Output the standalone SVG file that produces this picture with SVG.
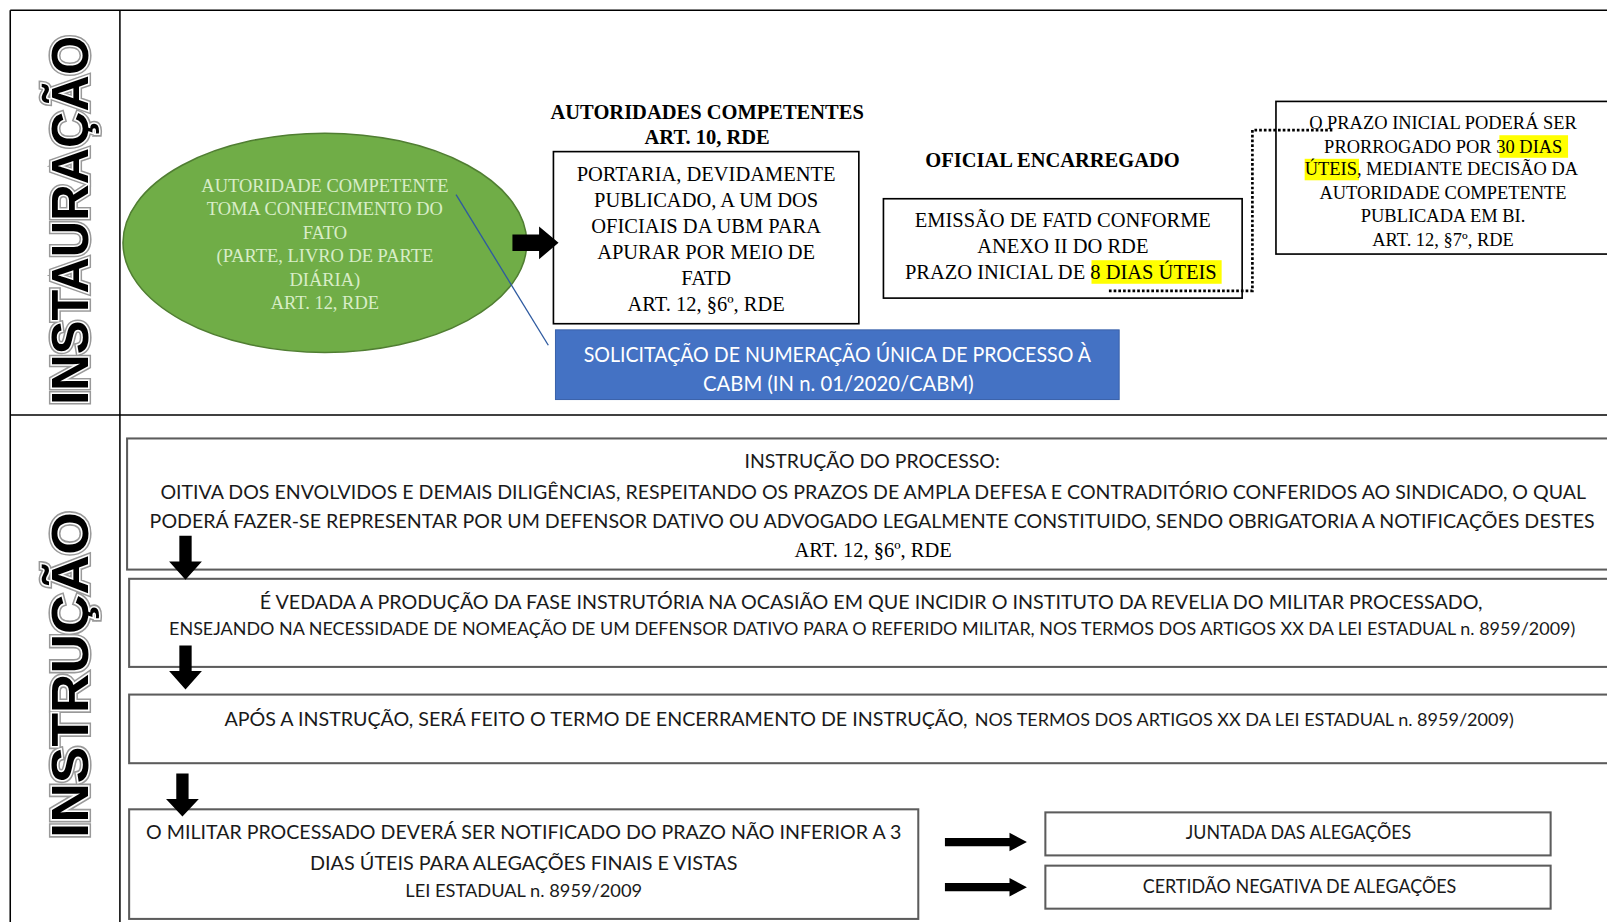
<svg xmlns="http://www.w3.org/2000/svg" width="1607" height="922" viewBox="0 0 1607 922">
<defs>
<style>
.serif{font-family:"Liberation Serif","Times New Roman",serif;fill:#000}
.b{font-weight:bold}
.sans{font-family:Lato,"Liberation Sans",Arial,sans-serif;fill:#1a1a1a}
.box{fill:#fff;stroke:#000;stroke-width:1.6}
.gbox{fill:#fff;stroke:#5c5c5c;stroke-width:2}
.hl{fill:#FFFF00}
.arr{fill:#000}
.grid{stroke:#000;stroke-width:1.5;fill:none}
.vt{font-family:"Liberation Sans",Arial,sans-serif;font-weight:bold;font-size:50px}
.vtsh{fill:#999;stroke:#999;stroke-width:6}
.vtfg{fill:#000;stroke:#fff;stroke-width:3;paint-order:stroke}
.mid{text-anchor:middle}
</style>
</defs>
<rect width="1607" height="922" fill="#fff"/>
<g transform="scale(1.02487 1.02444)">
  <g id="table">
    <line class="grid" x1="10" y1="10" x2="1620" y2="10"/>
    <line class="grid" x1="10" y1="10" x2="10" y2="910"/>
    <line class="grid" x1="117" y1="10" x2="117" y2="910"/>
    <line class="grid" x1="10" y1="405" x2="1620" y2="405"/>
  </g>
  <g id="label-instauracao">
    <text class="vt vtsh mid" transform="translate(86 215) rotate(-90)" textLength="360" lengthAdjust="spacingAndGlyphs">INSTAURAÇÃO</text>
    <text class="vt vtfg mid" transform="translate(86 215) rotate(-90)" textLength="360" lengthAdjust="spacingAndGlyphs">INSTAURAÇÃO</text>
  </g>
  <g id="label-instrucao">
    <text class="vt vtsh mid" transform="translate(86 659) rotate(-90)" textLength="318" lengthAdjust="spacingAndGlyphs">INSTRUÇÃO</text>
    <text class="vt vtfg mid" transform="translate(86 659) rotate(-90)" textLength="318" lengthAdjust="spacingAndGlyphs">INSTRUÇÃO</text>
  </g>

  <g id="node-autoridade">
    <ellipse cx="317" cy="237" rx="197" ry="107" fill="#70AD47" stroke="#507E32" stroke-width="1.5"/>
    <g class="mid" font-family="Liberation Serif,Times New Roman,serif" font-size="18" fill="#D8EDC8">
      <text x="317" y="187">AUTORIDADE COMPETENTE</text>
      <text x="317" y="210">TOMA CONHECIMENTO DO</text>
      <text x="317" y="233">FATO</text>
      <text x="317" y="256">(PARTE, LIVRO DE PARTE</text>
      <text x="317" y="279">DIÁRIA)</text>
      <text x="317" y="302">ART. 12, RDE</text>
    </g>
  </g>

  <g id="title-autoridades">
    <text class="serif b mid" x="690" y="116" font-size="20">AUTORIDADES COMPETENTES</text>
    <text class="serif b mid" x="690" y="141" font-size="20">ART. 10, RDE</text>
  </g>

  <g id="node-portaria">
    <rect class="box" x="540" y="148" width="298" height="168"/>
    <g class="serif mid" font-size="20">
      <text x="689" y="177">PORTARIA, DEVIDAMENTE</text>
      <text x="689" y="202">PUBLICADO, A UM DOS</text>
      <text x="689" y="227">OFICIAIS DA UBM PARA</text>
      <text x="689" y="253">APURAR POR MEIO DE</text>
      <text x="689" y="278">FATD</text>
      <text x="689" y="304">ART. 12, §6º, RDE</text>
    </g>
  </g>

  <g id="node-solicitacao">
    <rect x="542" y="322" width="550" height="68" fill="#4472C4" stroke="#3A62AA" stroke-width="1"/>
    <text class="sans mid" x="817" y="353" font-size="20.5" style="fill:#fff" textLength="495" lengthAdjust="spacingAndGlyphs">SOLICITAÇÃO DE NUMERAÇÃO ÚNICA DE PROCESSO À</text>
    <text class="sans mid" x="818" y="382" font-size="20.5" style="fill:#fff" textLength="264" lengthAdjust="spacingAndGlyphs">CABM (IN n. 01/2020/CABM)</text>
  </g>

  <g id="title-oficial">
    <text class="serif b mid" x="1027" y="163" font-size="20">OFICIAL ENCARREGADO</text>
  </g>

  <g id="node-emissao">
    <rect class="box" x="862" y="194" width="350" height="97"/>
    <rect class="hl" x="1065" y="254" width="127" height="23"/>
    <g class="serif" font-size="20">
      <text class="mid" x="1037" y="222">EMISSÃO DE FATD CONFORME</text>
      <text class="mid" x="1037" y="247">ANEXO II DO RDE</text>
      <text x="883" y="272">PRAZO INICIAL DE 8 DIAS ÚTEIS</text>
    </g>
  </g>

  <g id="node-prazo">
    <rect class="box" x="1245" y="99" width="380" height="149"/>
    <rect class="hl" x="1463" y="132" width="67" height="22"/>
    <rect class="hl" x="1273" y="155" width="53" height="21"/>
    <g class="serif" font-size="18">
      <text class="mid" x="1408" y="126">O PRAZO INICIAL PODERÁ SER</text>
      <text x="1292" y="149">PRORROGADO POR 30 DIAS</text>
      <text x="1273" y="171">ÚTEIS, MEDIANTE DECISÃO DA</text>
      <text class="mid" x="1408" y="194">AUTORIDADE COMPETENTE</text>
      <text class="mid" x="1408" y="217">PUBLICADA EM BI.</text>
      <text class="mid" x="1408" y="240">ART. 12, §7º, RDE</text>
    </g>
  </g>

  <g id="node-instrucao-processo">
    <rect class="gbox" x="124" y="428" width="1500" height="128"/>
    <text class="sans mid" x="851" y="457" font-size="19.5" textLength="249" lengthAdjust="spacingAndGlyphs">INSTRUÇÃO DO PROCESSO:</text>
    <text class="sans mid" x="852" y="487" font-size="18.5" textLength="1391" lengthAdjust="spacingAndGlyphs">OITIVA DOS ENVOLVIDOS E DEMAIS DILIGÊNCIAS, RESPEITANDO OS PRAZOS DE AMPLA DEFESA E CONTRADITÓRIO CONFERIDOS AO SINDICADO, O QUAL</text>
    <text class="sans mid" x="851" y="515" font-size="18.5" textLength="1410" lengthAdjust="spacingAndGlyphs">PODERÁ FAZER-SE REPRESENTAR POR UM DEFENSOR DATIVO OU ADVOGADO LEGALMENTE CONSTITUIDO, SENDO OBRIGATORIA A NOTIFICAÇÕES DESTES</text>
    <text class="serif mid" x="852" y="544" font-size="20">ART. 12, §6º, RDE</text>
  </g>

  <g id="node-vedada">
    <rect class="gbox" x="126" y="565" width="1500" height="86"/>
    <text class="sans mid" x="850" y="594" font-size="19.5" textLength="1193" lengthAdjust="spacingAndGlyphs">É VEDADA A PRODUÇÃO DA FASE INSTRUTÓRIA NA OCASIÃO EM QUE INCIDIR O INSTITUTO DA REVELIA DO MILITAR PROCESSADO,</text>
    <text class="sans mid" x="851" y="620" font-size="16.5" textLength="1372" lengthAdjust="spacingAndGlyphs">ENSEJANDO NA NECESSIDADE DE NOMEAÇÃO DE UM DEFENSOR DATIVO PARA O REFERIDO MILITAR, NOS TERMOS DOS ARTIGOS XX DA LEI ESTADUAL n. 8959/2009)</text>
  </g>

  <g id="node-encerramento">
    <rect class="gbox" x="126" y="678" width="1500" height="67"/>
    <text class="sans" x="219" y="709" font-size="19.5" textLength="725" lengthAdjust="spacingAndGlyphs">APÓS A INSTRUÇÃO, SERÁ FEITO O TERMO DE ENCERRAMENTO DE INSTRUÇÃO,</text>
    <text class="sans" x="951" y="709" font-size="16.5" textLength="526" lengthAdjust="spacingAndGlyphs">NOS TERMOS DOS ARTIGOS XX DA LEI ESTADUAL n. 8959/2009)</text>
  </g>

  <g id="node-notificado">
    <rect class="gbox" x="126" y="790" width="770" height="107"/>
    <text class="sans mid" x="511" y="819" font-size="19.5" textLength="737" lengthAdjust="spacingAndGlyphs">O MILITAR PROCESSADO DEVERÁ SER NOTIFICADO DO PRAZO NÃO INFERIOR A 3</text>
    <text class="sans mid" x="511" y="849" font-size="19.5" textLength="417" lengthAdjust="spacingAndGlyphs">DIAS ÚTEIS PARA ALEGAÇÕES FINAIS E VISTAS</text>
    <text class="sans mid" x="511" y="876" font-size="16.5" textLength="231" lengthAdjust="spacingAndGlyphs">LEI ESTADUAL n. 8959/2009</text>
  </g>

  <g id="node-juntada">
    <rect class="gbox" x="1020" y="793" width="493" height="42"/>
    <text class="sans mid" x="1267" y="819" font-size="18" textLength="220" lengthAdjust="spacingAndGlyphs">JUNTADA DAS ALEGAÇÕES</text>
  </g>

  <g id="node-certidao">
    <rect class="gbox" x="1020" y="845" width="493" height="42"/>
    <text class="sans mid" x="1268" y="872" font-size="18" textLength="306" lengthAdjust="spacingAndGlyphs">CERTIDÃO NEGATIVA DE ALEGAÇÕES</text>
  </g>

  <g id="connectors">
    <line x1="445" y1="190" x2="535" y2="337" stroke="#2E5AA0" stroke-width="1.3"/>
    <path d="M1082,284 H1222 V127 H1300" fill="none" stroke="#000" stroke-width="2.6" stroke-dasharray="2.6 2"/>
    <polygon class="arr" points="500,229 526,229 526,221 545,237 526,253 526,245 500,245"/>
    <polygon class="arr" points="175,523 187,523 187,548 197,548 181,566 165,548 175,548"/>
    <polygon class="arr" points="175,630 187,630 187,655 197,655 181,673 165,655 175,655"/>
    <polygon class="arr" points="172,755 184,755 184,780 194,780 178,797 162,780 172,780"/>
    <polygon class="arr" points="922,818 985,818 985,813 1002,822 985,831 985,826 922,826"/>
    <polygon class="arr" points="922,862 985,862 985,857 1002,866 985,875 985,870 922,870"/>
  </g>
</g>
</svg>
